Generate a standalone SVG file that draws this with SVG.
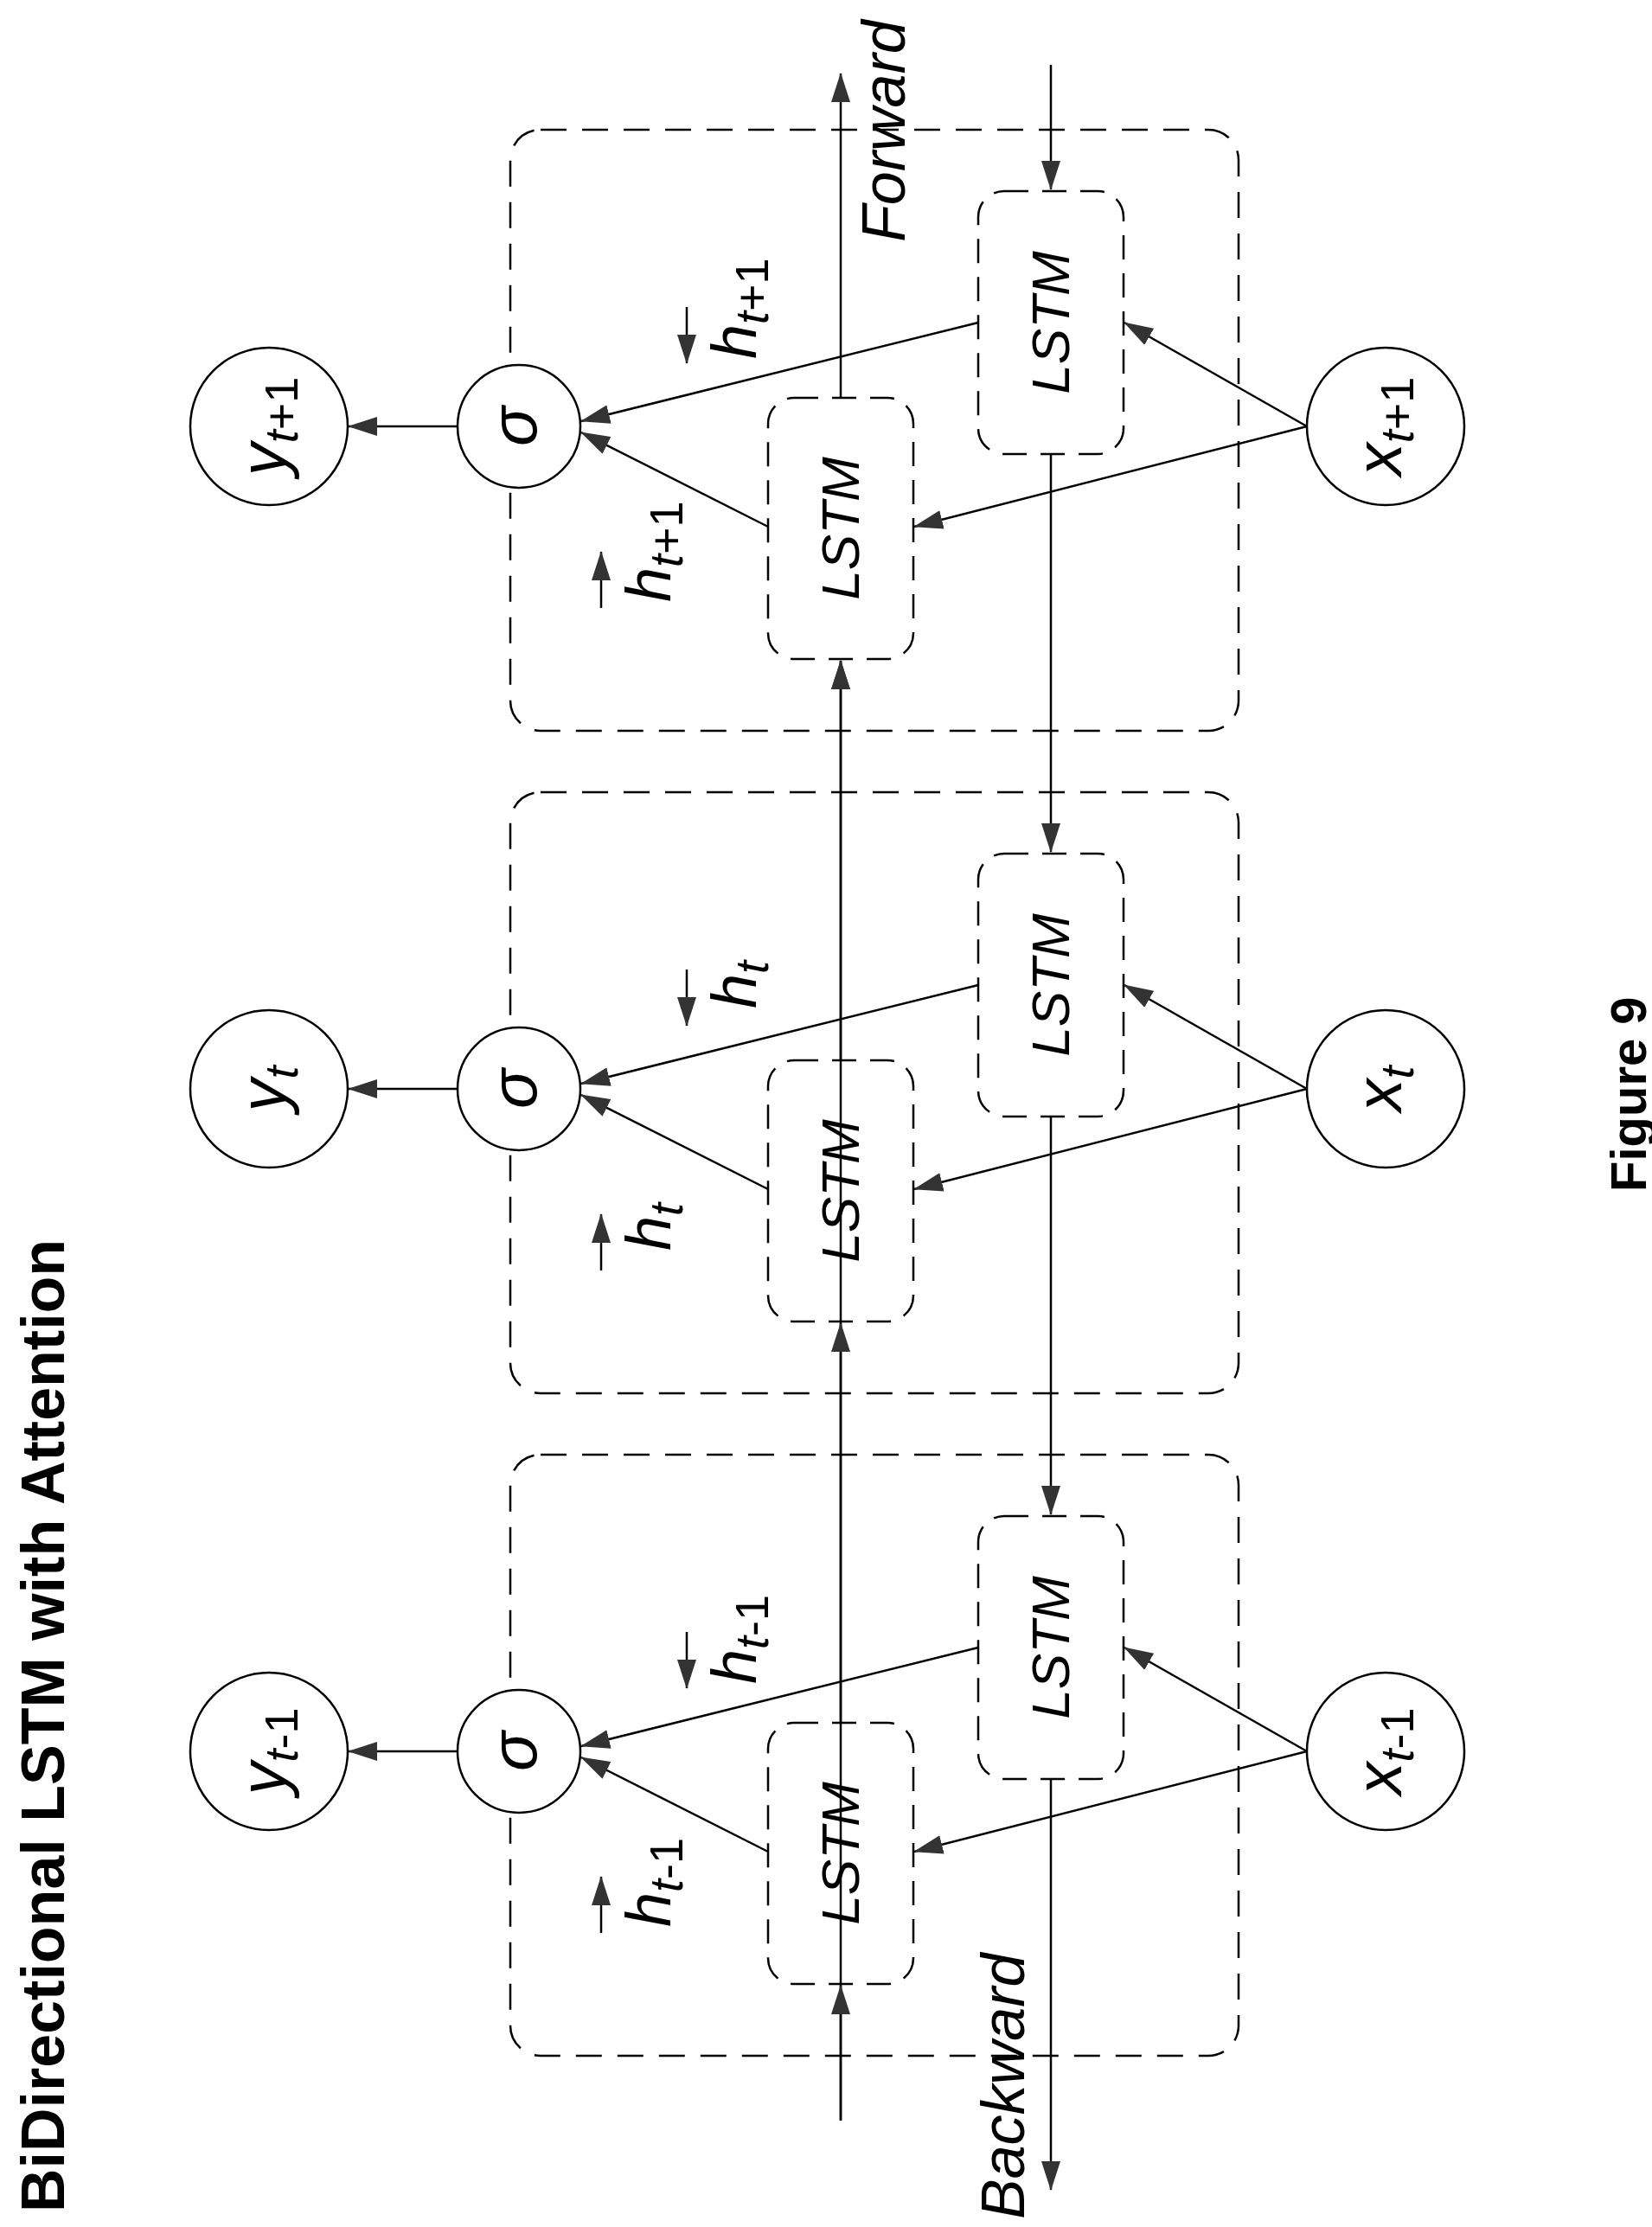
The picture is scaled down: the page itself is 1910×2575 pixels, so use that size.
<svg xmlns="http://www.w3.org/2000/svg" width="1910" height="2575" viewBox="0 0 1910 2575">
<style>
.box{fill:none;stroke:#000;stroke-width:2.5;stroke-dasharray:30 18}
.cell{fill:none;stroke:#000;stroke-width:2.5;stroke-dasharray:28 16}
.node{fill:#fff;stroke:#000;stroke-width:2.5}
.c line{stroke:#000;stroke-width:2.5;marker-end:url(#ah)}
.c line.pl{marker-end:none}
text{font-family:"Liberation Sans",Arial,sans-serif;fill:#000}
.it{font-style:italic}
.lstm{font-size:62px;font-style:italic;text-anchor:middle}
.lab{font-size:76px;text-anchor:middle}
.h{font-size:72px}
.sub{font-size:54px}
</style>
<defs>
<marker id="ah" markerUnits="userSpaceOnUse" markerWidth="34" markerHeight="22" viewBox="0 0 34 22" refX="33" refY="11" orient="auto">
<path d="M0,0 L34,11 L0,22 Z" fill="#333"/>
</marker>
</defs>

<text transform="translate(74,2558) rotate(-90)" style="font-size:70px;font-weight:bold">BiDirectional LSTM with Attention</text>
<text transform="translate(1903,1378) rotate(-90)" style="font-size:58px;font-weight:bold">Figure 9</text>
<text class="it" transform="translate(1046,280) rotate(-90)" style="font-size:70px">Forward</text>
<text class="it" transform="translate(1184,2566) rotate(-90)" style="font-size:70px">Backward</text>

<g id="connectors" class="c">
<line x1="972" y1="2452" x2="972" y2="764"/>
<line x1="972" y1="2452" x2="972" y2="2296"/>
<line x1="972" y1="1992" x2="972" y2="1530"/>
<line x1="972" y1="1226" x2="972" y2="764"/>
<line x1="972" y1="460" x2="972" y2="85"/>
<line x1="1215" y1="75" x2="1215" y2="219"/>
<line x1="1215" y1="525" x2="1215" y2="985"/>
<line x1="1215" y1="1291" x2="1215" y2="1751"/>
<line x1="1215" y1="2057" x2="1215" y2="2532"/>
</g>

<g id="row-t1">
<g id="box-t1"><rect class="box" x="590" y="150" width="842" height="695" rx="35"/></g>
<g class="c">
<line x1="529" y1="493" x2="403" y2="493"/>
<line x1="888" y1="609" x2="672" y2="500"/>
<line x1="1131" y1="373" x2="672" y2="487"/>
<line x1="1511" y1="493" x2="1300" y2="373"/>
<line x1="1511" y1="493" x2="1057" y2="609"/>
<line x1="695" y1="703" x2="695" y2="638"/>
<line x1="794" y1="355" x2="794" y2="420"/>
</g>
<g id="lstm-f-t1"><rect class="cell" x="888" y="460" width="168" height="302" rx="30" fill="#fff"/><text class="lstm" transform="translate(993,611) rotate(-90)">LSTM</text></g>
<g id="lstm-b-t1"><rect class="cell" x="1131" y="221" width="168" height="304" rx="30"/><text class="lstm" transform="translate(1236,373) rotate(-90)">LSTM</text></g>
<g id="sigma-t1"><circle class="node" cx="600" cy="493" r="71"/><text class="lab it" transform="translate(620,493) rotate(-90)">σ</text></g>
<g id="y-t1"><circle class="node" cx="311" cy="493" r="91"/><text class="lab" transform="translate(330,493) rotate(-90)"><tspan class="it">y</tspan><tspan class="sub it" dy="14">t</tspan><tspan class="sub" >+1</tspan></text></g>
<g id="x-t1"><circle class="node" cx="1602" cy="493" r="91"/><text class="lab" transform="translate(1620,493) rotate(-90)"><tspan class="it">x</tspan><tspan class="sub it" dy="14">t</tspan><tspan class="sub">+1</tspan></text></g>
<text transform="translate(775,696) rotate(-90)" class="h"><tspan class="it">h</tspan><tspan class="sub it" dy="14">t</tspan><tspan class="sub">+1</tspan></text>
<text transform="translate(874,415) rotate(-90)" class="h"><tspan class="it">h</tspan><tspan class="sub it" dy="14">t</tspan><tspan class="sub">+1</tspan></text>
</g>

<g id="row-t" transform="translate(0,766)">
<g id="box-t"><rect class="box" x="590" y="150" width="842" height="695" rx="35"/></g>
<g class="c">
<line x1="529" y1="493" x2="403" y2="493"/>
<line x1="888" y1="609" x2="672" y2="500"/>
<line x1="1131" y1="373" x2="672" y2="487"/>
<line x1="1511" y1="493" x2="1300" y2="373"/>
<line x1="1511" y1="493" x2="1057" y2="609"/>
<line x1="695" y1="703" x2="695" y2="638"/>
<line x1="794" y1="355" x2="794" y2="420"/>
</g>
<g id="lstm-f-t"><rect class="cell" x="888" y="460" width="168" height="302" rx="30"/><text class="lstm" transform="translate(993,611) rotate(-90)">LSTM</text></g>
<g id="lstm-b-t"><rect class="cell" x="1131" y="221" width="168" height="304" rx="30"/><text class="lstm" transform="translate(1236,373) rotate(-90)">LSTM</text></g>
<g id="sigma-t"><circle class="node" cx="600" cy="493" r="71"/><text class="lab it" transform="translate(620,493) rotate(-90)">σ</text></g>
<g id="y-t"><circle class="node" cx="311" cy="493" r="91"/><text class="lab" transform="translate(330,493) rotate(-90)"><tspan class="it">y</tspan><tspan class="sub it" dy="14">t</tspan></text></g>
<g id="x-t"><circle class="node" cx="1602" cy="493" r="91"/><text class="lab" transform="translate(1620,493) rotate(-90)"><tspan class="it">x</tspan><tspan class="sub it" dy="14">t</tspan></text></g>
<text transform="translate(775,680) rotate(-90)" class="h"><tspan class="it">h</tspan><tspan class="sub it" dy="14">t</tspan></text>
<text transform="translate(874,400) rotate(-90)" class="h"><tspan class="it">h</tspan><tspan class="sub it" dy="14">t</tspan></text>
</g>

<g id="row-t-1" transform="translate(0,1532)">
<g id="box-t-1"><rect class="box" x="590" y="150" width="842" height="695" rx="35"/></g>
<g class="c">
<line x1="529" y1="493" x2="403" y2="493"/>
<line x1="888" y1="609" x2="672" y2="500"/>
<line x1="1131" y1="373" x2="672" y2="487"/>
<line x1="1511" y1="493" x2="1300" y2="373"/>
<line x1="1511" y1="493" x2="1057" y2="609"/>
<line x1="695" y1="703" x2="695" y2="638"/>
<line x1="794" y1="355" x2="794" y2="420"/>
</g>
<g id="lstm-f-t-1"><rect class="cell" x="888" y="460" width="168" height="302" rx="30"/><text class="lstm" transform="translate(993,611) rotate(-90)">LSTM</text></g>
<g id="lstm-b-t-1"><rect class="cell" x="1131" y="221" width="168" height="304" rx="30"/><text class="lstm" transform="translate(1236,373) rotate(-90)">LSTM</text></g>
<g id="sigma-t-1"><circle class="node" cx="600" cy="493" r="71"/><text class="lab it" transform="translate(620,493) rotate(-90)">σ</text></g>
<g id="y-t-1"><circle class="node" cx="311" cy="493" r="91"/><text class="lab" transform="translate(330,493) rotate(-90)"><tspan class="it">y</tspan><tspan class="sub it" dy="14">t</tspan><tspan class="sub">-1</tspan></text></g>
<g id="x-t-1"><circle class="node" cx="1602" cy="493" r="91"/><text class="lab" transform="translate(1620,493) rotate(-90)"><tspan class="it">x</tspan><tspan class="sub it" dy="14">t</tspan><tspan class="sub">-1</tspan></text></g>
<text transform="translate(775,696) rotate(-90)" class="h"><tspan class="it">h</tspan><tspan class="sub it" dy="14">t</tspan><tspan class="sub">-1</tspan></text>
<text transform="translate(874,415) rotate(-90)" class="h"><tspan class="it">h</tspan><tspan class="sub it" dy="14">t</tspan><tspan class="sub">-1</tspan></text>
</g>
</svg>
